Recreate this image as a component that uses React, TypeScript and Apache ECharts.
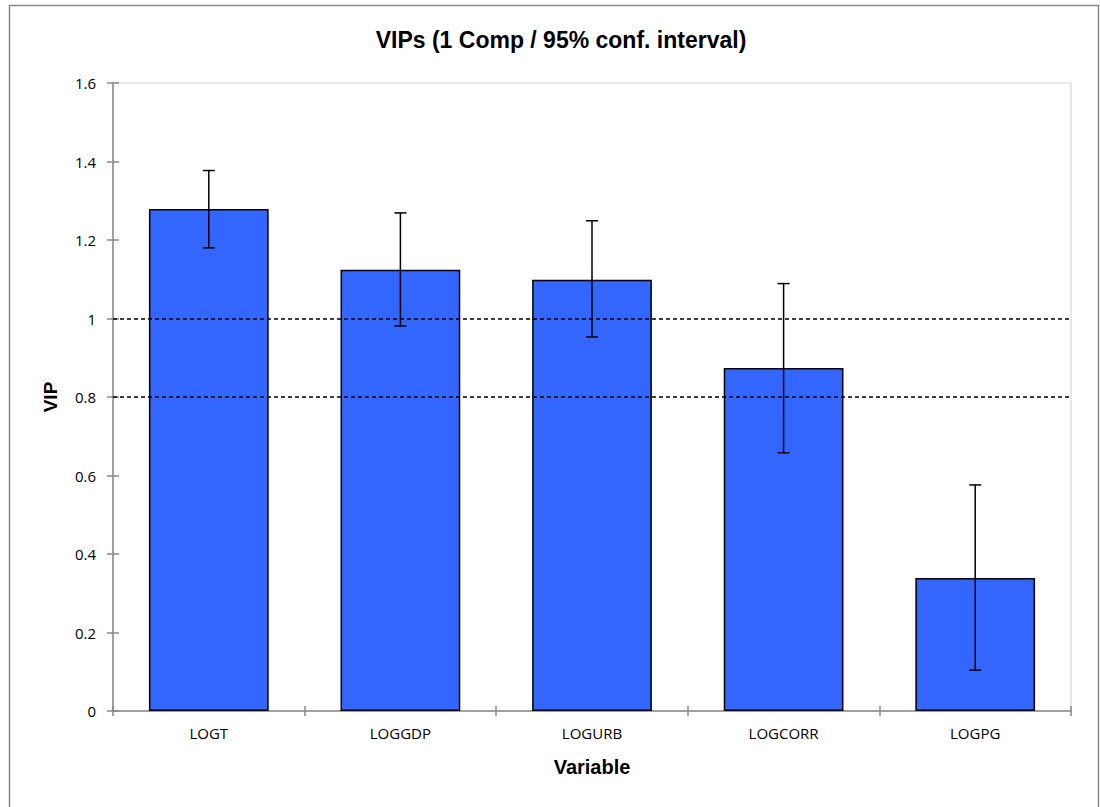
import React, { useEffect, useRef } from "react";
import * as echarts from "echarts";

const categories = ["LOGT", "LOGGDP", "LOGURB", "LOGCORR", "LOGPG"];
const vipValues = [1.279, 1.124, 1.099, 0.874, 0.339];
const errLow = [1.18, 0.981, 0.953, 0.658, 0.104];
const errHigh = [1.377, 1.269, 1.249, 1.089, 0.576];
const thresholds = [1, 0.8];
const titleText = "VIPs (1 Comp / 95% conf. interval)";

export default function App() {
  const ref = useRef<HTMLDivElement>(null);
  useEffect(() => {
    document.body.style.margin = "0";
    const chart = echarts.init(ref.current!, null, { renderer: "svg" });
    const errData = categories.map((_, i) => [i, errLow[i], errHigh[i]]);
    const axisGray = "#888888";
    chart.setOption({
      animation: false,
      backgroundColor: "#ffffff",
      title: {
        text: titleText,
        left: 556,
        top: 23,
        textAlign: "center",
        textStyle: { fontFamily: "Liberation Sans", fontWeight: "bold", fontSize: 23, color: "#000" },
      },
      graphic: [
        {
          type: "rect",
          shape: { x: 9.5, y: 5.5, width: 1089, height: 810 },
          style: { fill: "none", stroke: axisGray, lineWidth: 1.5 },
          silent: true,
          z: -1,
        },
      ],
      grid: {
        left: 113,
        top: 83,
        right: 29,
        bottom: 96,
        show: true,
        borderColor: "#d0d0d0",
        borderWidth: 1,
      },
      xAxis: [
        {
          type: "category",
          data: categories,
          name: "Variable",
          nameLocation: "middle",
          nameGap: 46,
          nameTextStyle: { fontFamily: "Liberation Sans", fontWeight: "bold", fontSize: 20, color: "#000" },
          axisLine: { lineStyle: { color: axisGray, width: 1.5 } },
          axisTick: { show: true, length: 5, lineStyle: { color: axisGray, width: 1.5 } },
          axisLabel: { fontFamily: "Open Sans", fontSize: 15, color: "#000", margin: 14 },
          splitLine: { show: false },
        },
        {
          type: "category",
          data: categories,
          position: "bottom",
          axisLine: { show: false },
          axisTick: { show: true, inside: true, length: 5, lineStyle: { color: axisGray, width: 1.5 } },
          axisLabel: { show: false },
          splitLine: { show: false },
        },
      ],
      yAxis: [
        {
          type: "value",
          min: 0,
          max: 1.6,
          interval: 0.2,
          name: "VIP",
          nameLocation: "middle",
          nameGap: 53,
          nameRotate: 90,
          nameTextStyle: { fontFamily: "Liberation Sans", fontWeight: "bold", fontSize: 19, color: "#000" },
          axisLine: { show: true, lineStyle: { color: axisGray, width: 1.5 } },
          axisTick: { show: true, length: 6, lineStyle: { color: axisGray, width: 1.5 } },
          axisLabel: {
            fontFamily: "Open Sans",
            fontSize: 15,
            color: "#000",
            margin: 17,
            formatter: (v: number) => String(Math.round(v * 10) / 10),
          },
          splitLine: { show: false },
        },
        {
          type: "value",
          min: 0,
          max: 1.6,
          interval: 0.2,
          position: "left",
          axisLine: { show: false },
          axisTick: { show: true, inside: true, length: 6, lineStyle: { color: axisGray, width: 1.5 } },
          axisLabel: { show: false },
          splitLine: { show: false },
        },
      ],
      series: [
        {
          type: "bar",
          data: vipValues,
          barWidth: "62.5%",
          itemStyle: { color: "#3366FF", borderColor: "#000", borderWidth: 1.5 },
          markLine: {
            silent: true,
            symbol: "none",
            label: { show: false },
            lineStyle: { color: "#000", type: [4, 3], width: 1.5 },
            data: thresholds.map((t) => ({ yAxis: t })),
          },
          z: 2,
        },
        {
          type: "custom",
          data: errData,
          z: 5,
          renderItem: (params: any, api: any) => {
            const x = api.value(0);
            const lo = api.coord([x, api.value(1)]);
            const hi = api.coord([x, api.value(2)]);
            const cap = 6;
            const style = { stroke: "#000", lineWidth: 1.5 };
            return {
              type: "group",
              children: [
                { type: "line", shape: { x1: lo[0], y1: lo[1], x2: hi[0], y2: hi[1] }, style },
                { type: "line", shape: { x1: lo[0] - cap, y1: lo[1], x2: lo[0] + cap, y2: lo[1] }, style },
                { type: "line", shape: { x1: hi[0] - cap, y1: hi[1], x2: hi[0] + cap, y2: hi[1] }, style },
              ],
            };
          },
        },
      ],
    });
    return () => chart.dispose();
  }, []);
  return <div ref={ref} style={{ width: 1100, height: 807 }} />;
}
